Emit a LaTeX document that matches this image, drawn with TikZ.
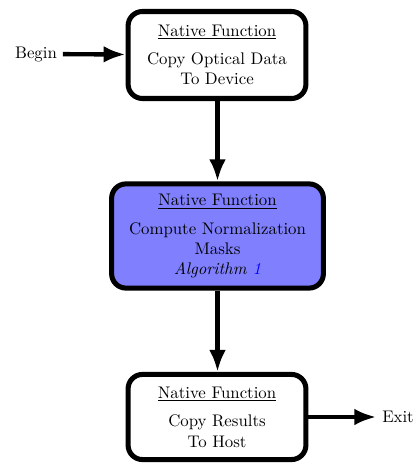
\documentclass[tikz,border=0pt]{standalone}
\usepackage{tikz}
\usetikzlibrary{arrows.meta,positioning}
\definecolor{nfblue}{HTML}{8080FF}
\definecolor{nfgray}{HTML}{000000}
\begin{document}
\begin{tikzpicture}[
    x=0.02092cm,
    y=-0.02092cm,
    font=\normalsize,
    func/.style={rectangle, rounded corners=3mm, draw=nfgray, line width=3pt, align=center, fill=white, inner sep=2pt},
    flow/.style={-{Latex[length=4.6mm, width=3.5mm]}, line width=2.6pt, draw=nfgray}
  ]
    \useasboundingbox (0,0) rectangle (419,463);

    \node[func, minimum width=3.72cm, minimum height=1.82cm] (copyin) at (217,55)
      {\underline{Native Function}\\[5pt] Copy Optical Data\\ To Device};
    \node[func, fill=nfblue, minimum width=4.43cm, minimum height=2.18cm] (norm) at (217.5,236)
      {\underline{Native Function}\\[5pt] Compute Normalization\\ Masks\\ \textit{Algorithm \textcolor{blue}{1}}};
    \node[func, minimum width=3.72cm, minimum height=1.78cm] (copyout) at (217,417)
      {\underline{Native Function}\\[5pt] Copy Results\\ To Host};

    \node (begin) at (36,54) {Begin};
    \node (exit) at (398,417) {Exit};

    \draw[flow] (begin) -- (copyin);
    \draw[flow] (copyin.south -| norm.north) -- (norm);
    \draw[flow] (norm) -- (copyout.north -| norm.south);
    \draw[flow] (copyout) -- (exit);
  \end{tikzpicture}
\end{document}
